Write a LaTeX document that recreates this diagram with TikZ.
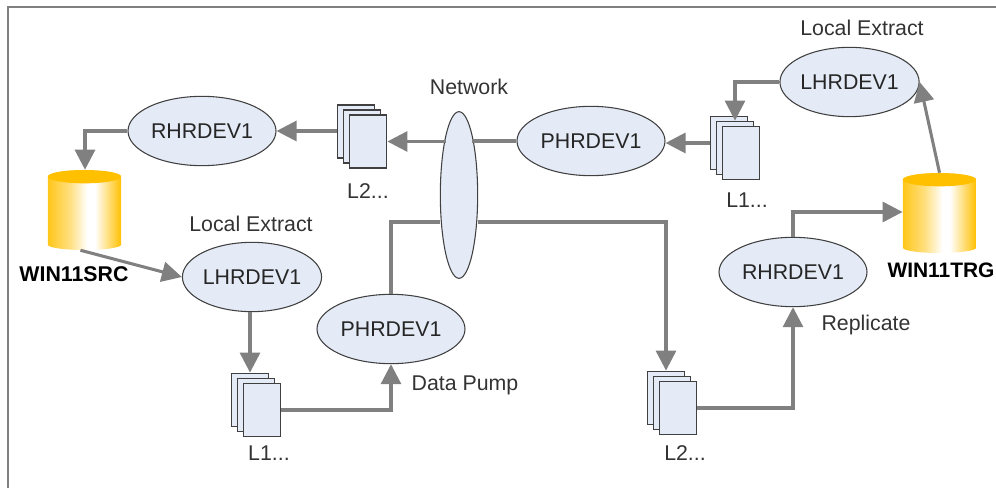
\documentclass[tikz,border=0pt]{standalone}
\usepackage{xcolor}
\usepackage{fontspec}
\setmainfont{Liberation Sans}
\usetikzlibrary{positioning, arrows.meta, shapes.geometric}

\definecolor{nodefill}{HTML}{E4EBF6}
\definecolor{nodeline}{HTML}{404040}
\definecolor{flowgrey}{HTML}{808080}
\definecolor{dbgold}{HTML}{FFC000}
\pgfdeclarehorizontalshading{dbshade}{100bp}{
  color(0bp)=(dbgold!90!white); color(25bp)=(dbgold!90!white); color(40bp)=(dbgold!50!white);
  color(52bp)=(white); color(57bp)=(white); color(75bp)=(dbgold); color(100bp)=(dbgold)}

\tikzset{
  host/.style={ellipse, draw=nodeline, line width=0.8pt, fill=nodefill, inner sep=0pt,
    minimum width=111pt, minimum height=52pt, font=\fontsize{16}{18}\selectfont, text=black!85},
  sheet/.style={rectangle, draw=nodeline, line width=1.1pt, fill=nodefill, inner sep=0pt,
    minimum width=28pt, minimum height=40pt},
  dbcyl/.style={rectangle, inner sep=0pt, minimum width=55pt, minimum height=60pt,
    path picture={
      \shade[shading=dbshade] ([yshift=-5pt]path picture bounding box.north west)
        -- ([yshift=4pt]path picture bounding box.south west)
        arc[start angle=180, end angle=360, x radius=27.5pt, y radius=4pt]
        -- ([yshift=-5pt]path picture bounding box.north east)
        arc[start angle=0, end angle=180, x radius=27.5pt, y radius=5pt] -- cycle;
      \fill[dbgold] ([yshift=-5pt]path picture bounding box.north) ellipse (27.5pt and 5pt);
    }},
  tag/.style={font=\fontsize{16}{18}\selectfont, text=black!80, inner sep=0pt},
  dbtag/.style={font=\fontsize{16}{18}\selectfont\bfseries, inner sep=0pt},
  flow/.style={draw=flowgrey, line width=2.3pt, -{Triangle[width=15pt,length=15pt]}},
  wire/.style={draw=flowgrey, line width=2.3pt},
}

\begin{document}
\begin{tikzpicture}[x=0.75pt, y=-0.75pt, on grid]
  \useasboundingbox (0,0) rectangle (996,488);
  \draw[flowgrey, line width=1.8pt] (8,488) -- (8,7) -- (996,7);

  \node[ellipse, draw=nodeline, line width=0.8pt, fill=nodefill, minimum width=28pt, minimum height=125pt, inner sep=0pt] (Net) at (459,195) {};
  \node[host] (PhrTop) [right=99pt of Net, yshift=40.5pt] {PHRDEV1};
  \node[host] (RhrSrc) [left=192.75pt of Net, yshift=48pt] {RHRDEV1};
  \node[host, minimum width=104pt] (LhrSrc) [left=155.25pt of Net, yshift=-61.5pt] {LHRDEV1};
  \node[host] (PhrSrc) [below=100.5pt of Net, xshift=-51pt] {PHRDEV1};
  \node[host, minimum width=104pt] (LhrTrg) [right=292.9pt of Net, yshift=84.75pt] {LHRDEV1};
  \node[host] (RhrTrg) [right=250.5pt of Net, yshift=-57.75pt] {RHRDEV1};

  \node[dbcyl] (SrcDb) [left=280.9pt of Net, yshift=-11.25pt] {};
  \node[dbcyl] (TrgDb) [right=360.4pt of Net, yshift=-13.5pt] {};

  % stacks of log files, front sheet last
  \coordinate (L2Top) at (368,141.5);
  \coordinate (L1Top) at (741,153);
  \coordinate (L1Src) at (262,410);
  \coordinate (L2Trg) at (678,408);
  \foreach \s in {L2Top,L1Top,L1Src,L2Trg}{
    \node[sheet] (\s-back) at ([xshift=-9pt,yshift=7.5pt]\s) {};
    \node[sheet] (\s-mid) at ([xshift=-4.5pt,yshift=3.75pt]\s) {};
    \node[sheet] (\s-front) at (\s) {};
  }

  \node[tag] (NetTag) at (469,87) {Network};
  \node[tag] (ExtSrcTag) at (251,224) {Local Extract};
  \node[tag] (ExtTrgTag) at (862,28) {Local Extract};
  \node[tag] (PumpTag) at (465,385) {Data Pump};
  \node[tag] (RepTag) at (866,325) {Replicate};
  \node[tag] (L2TopTag) at (368,191) {L2...};
  \node[tag] (L1TopTag) at (747,200) {L1...};
  \node[tag] (L1SrcTag) at (269,453) {L1...};
  \node[tag] (L2TrgTag) at (685,453) {L2...};
  \node[dbtag] (SrcTag) at (74,274) {WIN11SRC};
  \node[dbtag, font=\fontsize{15.7}{18}\selectfont\bfseries] (TrgTag) at (941,270) {WIN11TRG};

  \coordinate (SrcIn) at (85,131);
  \coordinate (PumpUp) at (391,222);
  \coordinate (NetDown) at (666,222);
  \coordinate (TrgUp) at (793,212);

  \path[flow] (RhrSrc.west) -| (SrcDb.north -| SrcIn);
  \path[flow] (L2Top-back.west |- RhrSrc) -- (RhrSrc.east);
  \path[flow] ([xshift=5pt]Net.west |- L2Top) -- (L2Top-front.east);
  \path[flow] (L1Top-back.west) -- (L1Top-back.west -| PhrTop.east);
  \path[flow] ([xshift=-3pt]SrcDb.south) -- (LhrSrc.west);
  \path[flow] (LhrSrc.south -| L1Src-back) -- (L1Src-back.north);
  \path[flow] (L1Src-front.east) -| (PhrSrc.south);
  \path[flow] (Net.east |- PumpUp) -- (NetDown) -- (L2Trg-back.north -| NetDown);
  \path[flow] (L2Trg-front.east) -| (RhrTrg.south);
  \path[flow] (RhrTrg.north) |- (TrgUp -| TrgDb.west);
  \path[flow] (TrgDb.north) -- (LhrTrg.east);
  \path[flow] (LhrTrg.west) -| (L1Top-mid.north);
  \path[wire] (PhrTop.west) -- ([xshift=-5pt]Net.east |- PhrTop);
  \path[wire] (PhrSrc.north) -- (PumpUp) -- (Net.west |- PumpUp);

\end{tikzpicture}
\end{document}
